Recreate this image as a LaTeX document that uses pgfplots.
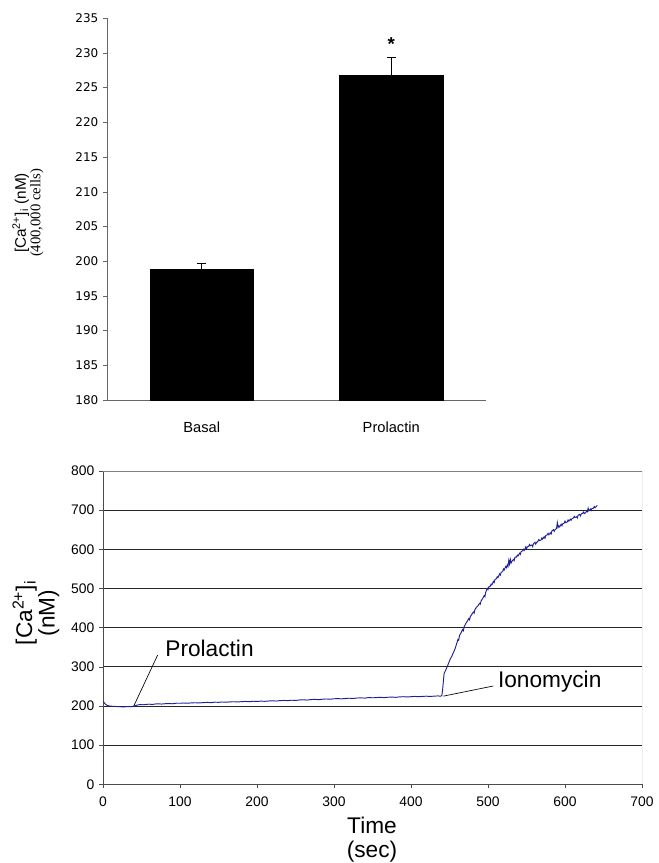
\documentclass[border=0pt]{standalone}
\usepackage{fontspec}
\setmainfont{Liberation Sans}
\newfontfamily\dejavu{DejaVu Sans}
\newfontfamily\timesf{Liberation Serif}
\usepackage{pgfplots}
\pgfplotsset{compat=1.18}
\definecolor{trace}{RGB}{30,30,150}
\begin{document}
\begin{tikzpicture}
\path (0,0) rectangle (489.75pt,-647.25pt);
% ---------------- top bar chart ----------------
\begin{axis}[
 at={(80.25pt,-300pt)}, anchor=south west, scale only axis,
 width=284.25pt, height=286.5pt,
 ybar, bar width=0.546,
 xmin=-0.5, xmax=1.5, ymin=180, ymax=235,
 axis x line*=bottom, axis y line*=left, axis line style={black!60,-},
 ytick={180,185,...,235}, xtick={0,1}, xticklabels={Basal,Prolactin},
 tick align=outside, major tick length=3pt,
 x tick style={draw=none}, y tick style={black!60},
 yticklabel style={font=\dejavu\fontsize{9}{11}\selectfont},
 xticklabel style={font=\fontsize{11}{13}\selectfont, yshift=-10pt},
 /pgf/number format/assume math mode=true,
]
\addplot[fill=black, draw=black,
 error bars/.cd, y dir=plus, y explicit,
 error bar style={black, line width=0.8pt},
 error mark options={black, rotate=90, mark size=3.5pt, line width=0.8pt}]
 coordinates {(0,198.85) +- (0,0.8) (1,226.7) +- (0,2.6)};
\node[font=\bfseries\fontsize{14}{16}\selectfont] at (axis cs:1,231.2) {*};
\end{axis}
\node[rotate=90, align=center, inner sep=0pt] at (21pt,-159.75pt)
 {{\fontsize{11.5}{12}\selectfont [Ca\textsuperscript{2+}]\textsubscript{i} (nM)}\\[-1pt]
  {\timesf\fontsize{11}{11}\selectfont (400,000 cells)}};
% ---------------- bottom trace ----------------
\begin{axis}[
 at={(77.25pt,-588.2pt)}, anchor=south west, scale only axis,
 width=404.25pt, height=235pt,
 xmin=0, xmax=700, ymin=0, ymax=800,
 xtick={0,100,...,700}, ytick={0,100,...,800},
 axis x line*=bottom, axis y line*=left, axis line style={black!70,-},
 ymajorgrids, major grid style={black!85, line width=0.6pt},
 tick align=outside, major tick length=3pt, tick style={black!70},
 ticklabel style={font=\fontsize{10.4}{12}\selectfont},
 xticklabel style={yshift=-3pt},
 /pgf/number format/assume math mode=true,
]
\addplot[trace, line width=0.7pt] table {
x y
0 212
1 210
2 207
4 203
6 201
8 200
10 199.5
14 199
18 198.5
22 198
26 197.5
30 198
34 198.2
38 198.5
40 199.5
44 202
48 203.5
52 203
56 204
60 204.5
64 203.8
68 205
72 205.5
76 204.8
80 205.6
85 206.2
90 205.5
95 207
100 206.8
105 207.5
110 206.9
115 207.8
120 208.2
125 207.6
130 208.5
135 209
140 208.4
145 209.6
150 209.2
155 210.1
160 209.5
165 210.4
170 210.8
175 210.1
180 211
185 211.5
190 210.9
195 212
200 211.4
205 212.3
210 211.8
215 212.6
220 213.2
225 212.5
230 213.6
235 214.1
240 213.5
245 214.6
250 214
255 215.2
260 215.8
265 215
270 216.2
275 216.8
280 216.1
285 217.2
290 217.8
295 217.1
300 218.3
305 218.8
310 218.1
315 219.2
320 219.7
325 219
330 220.2
335 220.6
340 220
345 221.5
350 220.8
355 221.4
360 222
365 221.3
370 222.2
375 222.7
380 222
385 223.1
390 223.6
395 222.9
400 223.7
405 224.3
410 223.6
415 224.4
420 224.9
425 224.2
430 225
435 225.6
438 224.8
440 226
441 240
442 262
443 283
445 291
447 300
449 310
451 320
453 327
455 336
457 345
459 357
461 370
462 368
463 380
465 387
467 395
468 392
469 402
471 410
473 416
475 423
476 420
477 428
479 434
481 440
482 437
483 446
485 452
487 456
489 462
490 460
491 468
493 474
495 482
496 479
497 490
499 500
500 497
501 504
503 506
504 511
505 509
507 518
508 515
509 523
511 525
512 530
513 528
515 537
516 534
517 541
519 543
520 550
521 547
523 556
524 553
525 560
526 556
527 572
528 562
529 574
530 565
531 569
533 574
534 571
535 580
537 580
538 585
539 583
541 590
542 587
543 594
545 596
546 600
547 597
549 606
550 601
551 606
553 608
554 612
555 609
557 611
558 607
559 614
561 618
562 613
563 617
565 621
566 625
567 622
569 624
570 629
571 626
573 632
574 628
575 635
577 637
578 641
579 637
581 642
582 639
583 647
585 650
586 646
587 650
589 653
590 668
591 656
592 660
593 657
595 664
596 660
597 665
599 667
600 672
601 668
603 670
604 675
605 672
607 677
608 674
609 678
611 680
612 684
613 681
615 683
616 680
617 687
619 689
620 685
621 690
623 692
624 695
625 691
627 694
628 698
629 696
630 705
631 698
633 703
634 699
635 704
637 705
638 709
639 706
641 710
642 712
};
\draw[black!50] (rel axis cs:0,1) -- (rel axis cs:1,1) -- (rel axis cs:1,0);
\draw[black, line width=0.5pt] (axis cs:40,200) -- (axis cs:71,330);
\node[anchor=west, inner sep=1pt, font=\fontsize{17}{20}\selectfont] at (axis cs:79,348) {Prolactin};
\draw[black, line width=0.5pt] (axis cs:442,225) -- (axis cs:507,251);
\node[anchor=west, inner sep=1pt, font=\fontsize{17}{20}\selectfont] at (axis cs:511,262) {Ionomycin};
\end{axis}
\node[rotate=90, align=center, inner sep=0pt, font=\fontsize{17}{17}\selectfont] at (27pt,-459.75pt)
 {[Ca\textsuperscript{2+}]\textsubscript{i}\\(nM)};
\node[align=center, inner sep=0pt, font=\fontsize{17}{18}\selectfont] at (279pt,-630pt)
 {Time\\(sec)};
\end{tikzpicture}
\end{document}
